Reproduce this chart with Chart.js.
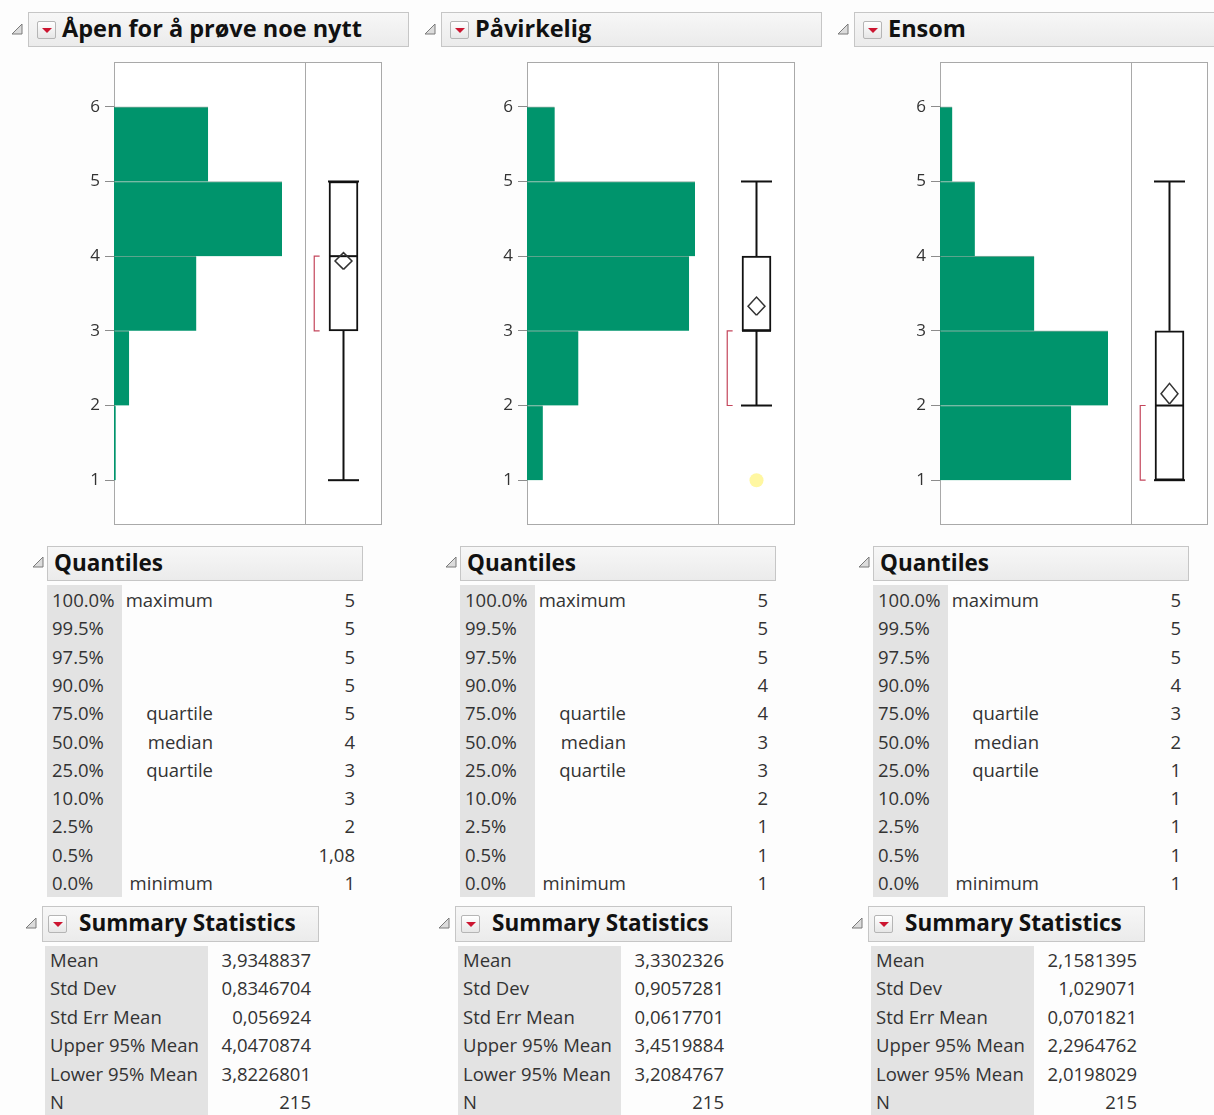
<!DOCTYPE html>
<html>
<head>
<meta charset="utf-8">
<script src="https://cdn.jsdelivr.net/npm/chart.js@4.4.0/dist/chart.umd.min.js"></script>
<style>
body { margin: 0; background: #fff; font-family: 'Open Sans', sans-serif; color: #222; }
#page { position: relative; width: 1214px; height: 1115px; overflow: hidden; background: #fdfdfd; }
.hdr { position: absolute; background: linear-gradient(#f7f7f7, #ebebeb); border: 1px solid #c6c6c6; box-sizing: border-box; }
.ttl { position: absolute; font-weight: 700; color: #111; white-space: nowrap; }
.frame { position: absolute; border: 1px solid #a9a9a9; box-sizing: border-box; background: #fff; }
.vline { position: absolute; width: 1px; background: #a9a9a9; }
.txt { position: absolute; font-size: 18.5px; color: #333; white-space: nowrap; }
.col { position: absolute; background: #e3e3e3; }
.btn { position: absolute; width: 19px; height: 18px; box-sizing: border-box; border: 1px solid #b5b5b5; border-radius: 2px; background: linear-gradient(#ffffff, #e6e6e6); }
.btn:after { content: ''; position: absolute; left: 4px; top: 6px; border-left: 5px solid transparent; border-right: 5px solid transparent; border-top: 5px solid #cc1530; }
canvas { position: absolute; }
</style>
</head>
<body>
<div id="page"></div>
<script>
/*****************************************************************************/
/* Data */
/*****************************************************************************/
const titles = ['Åpen for å prøve noe nytt', 'Påvirkelig', 'Ensom'];
const binStart = [1, 2, 3, 4, 5];
const yTicks = [1, 2, 3, 4, 5, 6];

// counts per bin [1,2) [2,3) [3,4) [4,5) [5,6]
const countsOpen = [1, 9, 49, 100, 56];
const countsPavirkelig = [8, 26, 82, 85, 14];
const countsEnsom = [64, 82, 46, 17, 6];

const quantileLevels = ['100.0%', '99.5%', '97.5%', '90.0%', '75.0%', '50.0%', '25.0%', '10.0%', '2.5%', '0.5%', '0.0%'];
const quantileNames = ['maximum', '', '', '', 'quartile', 'median', 'quartile', '', '', '', 'minimum'];
const quantilesOpen = [5, 5, 5, 5, 5, 4, 3, 3, 2, 1.08, 1];
const quantilesPavirkelig = [5, 5, 5, 4, 4, 3, 3, 2, 1, 1, 1];
const quantilesEnsom = [5, 5, 5, 4, 3, 2, 1, 1, 1, 1, 1];

const statNames = ['Mean', 'Std Dev', 'Std Err Mean', 'Upper 95% Mean', 'Lower 95% Mean', 'N'];
const statsOpen = [3.9348837, 0.8346704, 0.056924, 4.0470874, 3.8226801, 215];
const statsPavirkelig = [3.3302326, 0.9057281, 0.0617701, 3.4519884, 3.2084767, 215];
const statsEnsom = [2.1581395, 1.029071, 0.0701821, 2.2964762, 2.0198029, 215];

const whiskerLow = [1, 2, 1];
const whiskerHigh = [5, 5, 5];
const shortestHalfLow = [3, 2, 1];
const shortestHalfHigh = [4, 3, 2];
const outliers = [[], [1], []];

const counts = [countsOpen, countsPavirkelig, countsEnsom];
const quantiles = [quantilesOpen, quantilesPavirkelig, quantilesEnsom];
const stats = [statsOpen, statsPavirkelig, statsEnsom];

/*****************************************************************************/
/* Helpers */
/*****************************************************************************/
const page = document.getElementById('page');
const fmt = v => String(v).replace('.', ',');

function el(cls, css, text) {
    const d = document.createElement('div');
    d.className = cls;
    Object.assign(d.style, css);
    if (text !== undefined) d.textContent = text;
    page.appendChild(d);
    return d;
}

function triangle(x, y) {
    const ns = 'http://www.w3.org/2000/svg';
    const svg = document.createElementNS(ns, 'svg');
    svg.setAttribute('width', 12);
    svg.setAttribute('height', 12);
    svg.style.position = 'absolute';
    svg.style.left = x + 'px';
    svg.style.top = y + 'px';
    const p = document.createElementNS(ns, 'polygon');
    p.setAttribute('points', '1,11 11,1 11,11');
    p.setAttribute('fill', '#dcdcdc');
    p.setAttribute('stroke', '#7a7a7a');
    p.setAttribute('stroke-width', '1');
    svg.appendChild(p);
    page.appendChild(svg);
}

function canvas(x, y, w, h) {
    const c = document.createElement('canvas');
    c.width = w;
    c.height = h;
    c.style.left = x + 'px';
    c.style.top = y + 'px';
    page.appendChild(c);
    return c;
}

Chart.defaults.font.family = "'Open Sans', sans-serif";
Chart.defaults.animation = false;

function drawHistogram(cv, data) {
    const xMax = Math.max(...data) * 191 / 168;
    new Chart(cv, {
        type: 'bar',
        data: {
            datasets: [{
                data: binStart.map((b, k) => ({ x: data[k], y: b + 0.5 })),
                backgroundColor: '#00946c',
                borderColor: 'rgba(0,70,45,0.45)',
                borderWidth: { top: 1, right: 0, bottom: 0, left: 0 },
                borderSkipped: false,
                barPercentage: 1,
                categoryPercentage: 1
            }]
        },
        options: {
            indexAxis: 'y',
            responsive: false,
            layout: { padding: 0, autoPadding: false },
            plugins: { legend: { display: false }, tooltip: { enabled: false } },
            scales: {
                x: { type: 'linear', min: 0, max: xMax, display: false, offset: false },
                y: {
                    type: 'linear', min: 0.4, max: 6.6, offset: false,
                    afterBuildTicks: s => { s.ticks = yTicks.map(v => ({ value: v })); },
                    afterFit: s => { s.width = 34; s.paddingTop = 0; s.paddingBottom = 0; },
                    grid: { offset: false, drawOnChartArea: false, drawTicks: true, tickLength: 9, color: '#8c8c8c' },
                    border: { display: false },
                    ticks: { padding: 5, color: '#333', font: { size: 17 } }
                }
            }
        }
    });
}

function drawBoxPlot(cv, i) {
    const q = quantiles[i];
    const q3 = q[4], med = q[5], q1 = q[6];
    const mean = stats[i][0], up = stats[i][3], lo = stats[i][4];
    const cx = 0.5, dw = 0.11, bx = 0.12, bt = 0.07;
    const ink = '#111';
    new Chart(cv, {
        type: 'bar',
        data: {
            datasets: [
                { type: 'line', order: 6, data: [{ x: cx, y: whiskerLow[i] }, { x: cx, y: q1 }], borderColor: ink, borderWidth: 2, pointRadius: 0 },
                { type: 'line', order: 6, data: [{ x: cx, y: q3 }, { x: cx, y: whiskerHigh[i] }], borderColor: ink, borderWidth: 2, pointRadius: 0 },
                { type: 'bar', order: 5, data: [{ x: cx, y: [q1, q3] }], barThickness: 29, backgroundColor: '#fff', borderColor: ink, borderWidth: 2, borderSkipped: false },
                { type: 'scatter', order: 4, data: [{ x: cx, y: whiskerLow[i] }, { x: cx, y: whiskerHigh[i] }], pointStyle: 'line', pointRadius: 15.5, borderColor: ink, borderWidth: 2 },
                { type: 'scatter', order: 3, data: [{ x: cx, y: med }], pointStyle: 'line', pointRadius: 14.5, borderColor: ink, borderWidth: 2 },
                { type: 'line', order: 2, data: [{ x: bx + bt, y: shortestHalfLow[i] }, { x: bx, y: shortestHalfLow[i] }, { x: bx, y: shortestHalfHigh[i] }, { x: bx + bt, y: shortestHalfHigh[i] }], borderColor: '#c4465c', borderWidth: 1.2, pointRadius: 0 },
                { type: 'line', order: 1, data: [{ x: cx, y: lo }, { x: cx - dw, y: mean }, { x: cx, y: up }, { x: cx + dw, y: mean }, { x: cx, y: lo }], borderColor: '#333', borderWidth: 1.5, pointRadius: 0, fill: false },
                { type: 'scatter', order: 1, data: outliers[i].map(v => ({ x: cx, y: v })), pointRadius: 7, backgroundColor: 'rgba(255,244,130,0.75)', borderWidth: 0 }
            ]
        },
        options: {
            responsive: false,
            layout: { padding: 0, autoPadding: false },
            plugins: { legend: { display: false }, tooltip: { enabled: false } },
            scales: {
                x: { type: 'linear', min: 0, max: 1, display: false, offset: false },
                y: { type: 'linear', min: 0.4, max: 6.6, display: false, offset: false }
            }
        }
    });
}

/*****************************************************************************/
/* Panels */
/*****************************************************************************/
titles.forEach((title, i) => {
    const ox = i * 413;

    // title bar
    triangle(ox + 11, 23);
    el('hdr', { left: (ox + 28) + 'px', top: '12px', width: '381px', height: '35px' });
    el('btn', { left: (ox + 37) + 'px', top: '21px' });
    el('ttl', { left: (ox + 62) + 'px', top: '11px', height: '35px', lineHeight: '35px', fontSize: '23.5px' }, title);

    // plot frame
    el('frame', { left: (ox + 114) + 'px', top: '62px', width: '268px', height: '463px' });
    el('vline', { left: (ox + 305) + 'px', top: '62px', height: '463px' });
    drawHistogram(canvas(ox + 80, 62, 225, 463), counts[i]);
    drawBoxPlot(canvas(ox + 305, 62, 77, 463), i);

    // quantiles
    triangle(ox + 32, 556);
    el('hdr', { left: (ox + 47) + 'px', top: '546px', width: '316px', height: '35px' });
    el('ttl', { left: (ox + 54) + 'px', top: '545px', height: '35px', lineHeight: '35px', fontSize: '22.5px' }, 'Quantiles');
    el('col', { left: (ox + 47) + 'px', top: '585px', width: '75px', height: '312px' });
    quantileLevels.forEach((lvl, r) => {
        const top = (600 + r * 28.3 - 14) + 'px';
        el('txt', { left: (ox + 52) + 'px', top, lineHeight: '28px' }, lvl);
        if (quantileNames[r]) {
            el('txt', { left: (ox + 113) + 'px', width: '100px', textAlign: 'right', top, lineHeight: '28px' }, quantileNames[r]);
        }
        el('txt', { left: (ox + 255) + 'px', width: '100px', textAlign: 'right', top, lineHeight: '28px' }, fmt(quantiles[i][r]));
    });

    // summary statistics
    triangle(ox + 25, 917);
    el('hdr', { left: (ox + 42) + 'px', top: '906px', width: '277px', height: '36px' });
    el('btn', { left: (ox + 48) + 'px', top: '915px' });
    el('ttl', { left: (ox + 79) + 'px', top: '905px', height: '36px', lineHeight: '36px', fontSize: '22.5px' }, 'Summary Statistics');
    el('col', { left: (ox + 45) + 'px', top: '946px', width: '163px', height: '169px' });
    statNames.forEach((name, r) => {
        const top = (960 + r * 28.4 - 14) + 'px';
        el('txt', { left: (ox + 50) + 'px', top, lineHeight: '28px' }, name);
        el('txt', { left: (ox + 151) + 'px', width: '160px', textAlign: 'right', top, lineHeight: '28px' }, fmt(stats[i][r]));
    });
});
</script>
</body>
</html>
